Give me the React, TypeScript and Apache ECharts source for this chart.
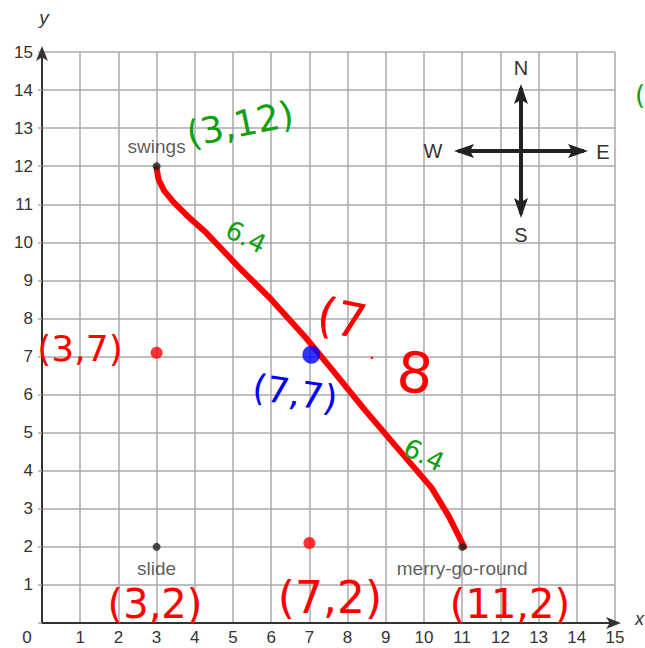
import React, { useEffect, useRef } from "react";
import * as echarts from "echarts";

const xTicks = [0, 1, 2, 3, 4, 5, 6, 7, 8, 9, 10, 11, 12, 13, 14, 15];
const yTicks = [0, 1, 2, 3, 4, 5, 6, 7, 8, 9, 10, 11, 12, 13, 14, 15];

const places = [
  { name: "swings", x: 3, y: 12 },
  { name: "slide", x: 3, y: 2 },
  { name: "merry-go-round", x: 11, y: 2 },
];

const redPath = [
  [3, 11.95], [3.05, 11.65], [3.2, 11.35], [3.45, 11.05], [3.8, 10.7], [4.3, 10.25], [5.15, 9.35], [6, 8.5],
  [6.9, 7.5], [7.6, 6.65], [8.45, 5.6], [9.3, 4.6], [10.2, 3.55], [10.65, 2.8], [11.05, 2.0],
];

const redDots = [[3, 7.1], [7, 2.1]];
const blueDots = [[7.05, 7.05]];

const notes = [
  { text: "(3,12)", px: 240, py: 124, color: "#11a011", size: 36, rot: 0.2 },
  { text: "6.4", px: 246, py: 237, color: "#11a011", size: 26, rot: -0.45 },
  { text: "6.4", px: 424, py: 455, color: "#11a011", size: 26, rot: -0.45 },
  { text: "(", px: 640, py: 95, color: "#11a011", size: 26, rot: 0 },
  { text: "(3,7)", px: 80, py: 348, color: "#ff0000", size: 36, rot: 0 },
  { text: "(7", px: 342, py: 318, color: "#ff0000", size: 48, rot: -0.2 },
  { text: ".", px: 372, py: 352, color: "#ff0000", size: 20, rot: 0 },
  { text: "8", px: 415, py: 373, color: "#ff0000", size: 56, rot: -0.1 },
  { text: "(7,7)", px: 295, py: 393, color: "#0000ff", size: 36, rot: -0.15 },
  { text: "(3,2)", px: 155, py: 604, color: "#ff0000", size: 40, rot: 0 },
  { text: "(7,2)", px: 330, py: 597, color: "#ff0000", size: 44, rot: 0 },
  { text: "(11,2)", px: 510, py: 604, color: "#ff0000", size: 40, rot: 0 },
];

const FONT = "'Liberation Sans', Arial, sans-serif";
const HAND = "'DejaVu Sans', sans-serif";

function arrowHead(tipX: number, tipY: number, dir: "up" | "down" | "left" | "right") {
  const L = 16, W = 7;
  let pts: number[][] = [];
  if (dir === "up") pts = [[tipX, tipY], [tipX - W, tipY + L + 4], [tipX, tipY + L], [tipX + W, tipY + L + 4]];
  if (dir === "down") pts = [[tipX, tipY], [tipX - W, tipY - L - 4], [tipX, tipY - L], [tipX + W, tipY - L - 4]];
  if (dir === "left") pts = [[tipX, tipY], [tipX + L + 4, tipY - W], [tipX + L, tipY], [tipX + L + 4, tipY + W]];
  if (dir === "right") pts = [[tipX, tipY], [tipX - L - 4, tipY - W], [tipX - L, tipY], [tipX - L - 4, tipY + W]];
  return { type: "polygon", shape: { points: pts }, style: { fill: "#222" }, z: 10 };
}

export default function App() {
  const ref = useRef<HTMLDivElement>(null);
  useEffect(() => {
    if (!ref.current) return;
    const chart = echarts.init(ref.current, undefined, { renderer: "svg" });
    const cx = 521, cy = 151;
    const graphic: any[] = [
      { type: "line", shape: { x1: cx, y1: 88, x2: cx, y2: 214 }, style: { stroke: "#222", lineWidth: 4 }, z: 10 },
      { type: "line", shape: { x1: 458, y1: cy, x2: 584, y2: cy }, style: { stroke: "#222", lineWidth: 4 }, z: 10 },
      arrowHead(cx, 84, "up"),
      arrowHead(cx, 218, "down"),
      arrowHead(454, cy, "left"),
      arrowHead(588, cy, "right"),
      { type: "text", x: cx, y: 68, style: { text: "N", font: `20px ${FONT}`, fill: "#333", align: "center", verticalAlign: "middle" }, z: 10 },
      { type: "text", x: cx, y: 235, style: { text: "S", font: `20px ${FONT}`, fill: "#333", align: "center", verticalAlign: "middle" }, z: 10 },
      { type: "text", x: 433, y: cy, style: { text: "W", font: `20px ${FONT}`, fill: "#333", align: "center", verticalAlign: "middle" }, z: 10 },
      { type: "text", x: 603, y: cy + 1, style: { text: "E", font: `20px ${FONT}`, fill: "#333", align: "center", verticalAlign: "middle" }, z: 10 },
      { type: "text", x: 44, y: 17, style: { text: "y", font: `italic 19px ${FONT}`, fill: "#333", align: "center", verticalAlign: "middle" }, z: 10 },
      { type: "text", x: 644, y: 619, style: { text: "x", font: `italic 18px ${FONT}`, fill: "#333", align: "right", verticalAlign: "middle" }, z: 10 },
      { type: "text", x: 27, y: 637, style: { text: "0", font: `17px ${FONT}`, fill: "#333", align: "center", verticalAlign: "middle" }, z: 10 },
      ...notes.map((n) => ({
        type: "text",
        x: n.px,
        y: n.py,
        rotation: n.rot,
        originX: 0,
        originY: 0,
        style: { text: n.text, font: `${n.size}px ${HAND}`, fill: n.color, align: "center", verticalAlign: "middle" },
        z: 20,
      })),
    ];
    chart.setOption({
      animation: false,
      backgroundColor: "#ffffff",
      grid: { left: 42, right: 30, top: 52, bottom: 25, containLabel: false },
      xAxis: {
        type: "value",
        min: xTicks[0],
        max: xTicks[xTicks.length - 1],
        interval: 1,
        axisLine: { show: true, lineStyle: { color: "#333", width: 2 }, symbol: ["none", "arrow"], symbolSize: [9, 15], symbolOffset: [0, 6] },
        axisTick: { show: false },
        axisLabel: { margin: 6, fontSize: 17, color: "#333", fontFamily: FONT, formatter: (v: number) => (v === 0 ? "" : String(v)) },
        splitLine: { show: true, lineStyle: { color: "#aaa", width: 1.5 } },
      },
      yAxis: {
        type: "value",
        min: yTicks[0],
        max: yTicks[yTicks.length - 1],
        interval: 1,
        axisLine: { show: true, lineStyle: { color: "#333", width: 2 }, symbol: ["none", "arrow"], symbolSize: [9, 15], symbolOffset: [0, 6] },
        axisTick: { show: true, length: 4, lineStyle: { color: "#aaa", width: 1.5 } },
        axisLabel: { margin: 9, fontSize: 17, color: "#333", fontFamily: FONT, formatter: (v: number) => (v === 0 ? "" : String(v)) },
        splitLine: { show: true, lineStyle: { color: "#aaa", width: 1.5 } },
      },
      series: [
        {
          type: "line",
          data: redPath,
          smooth: false,
          showSymbol: false,
          lineStyle: { color: "#ff0000", width: 6, cap: "round", join: "round" },
          z: 3,
        },
        {
          type: "scatter",
          data: places.map((p) => ({
            value: [p.x, p.y],
            name: p.name,
            label: {
              show: true,
              formatter: p.name,
              position: p.name === "swings" ? "top" : "bottom",
              distance: p.name === "swings" ? 6 : 8,
              color: "#333",
              fontSize: 19,
              fontFamily: FONT,
            },
          })),
          symbolSize: 8,
          itemStyle: { color: "#222" },
          z: 5,
        },
        {
          type: "scatter",
          data: redDots,
          symbolSize: 12,
          itemStyle: { color: "#ff0000" },
          z: 6,
        },
        {
          type: "scatter",
          data: blueDots,
          symbolSize: 18,
          itemStyle: { color: "#0000ff" },
          z: 6,
        },
      ],
      graphic,
    });
    return () => chart.dispose();
  }, []);
  return <div ref={ref} style={{ position: "fixed", left: 0, top: 0, width: 645, height: 648 }} />;
}
